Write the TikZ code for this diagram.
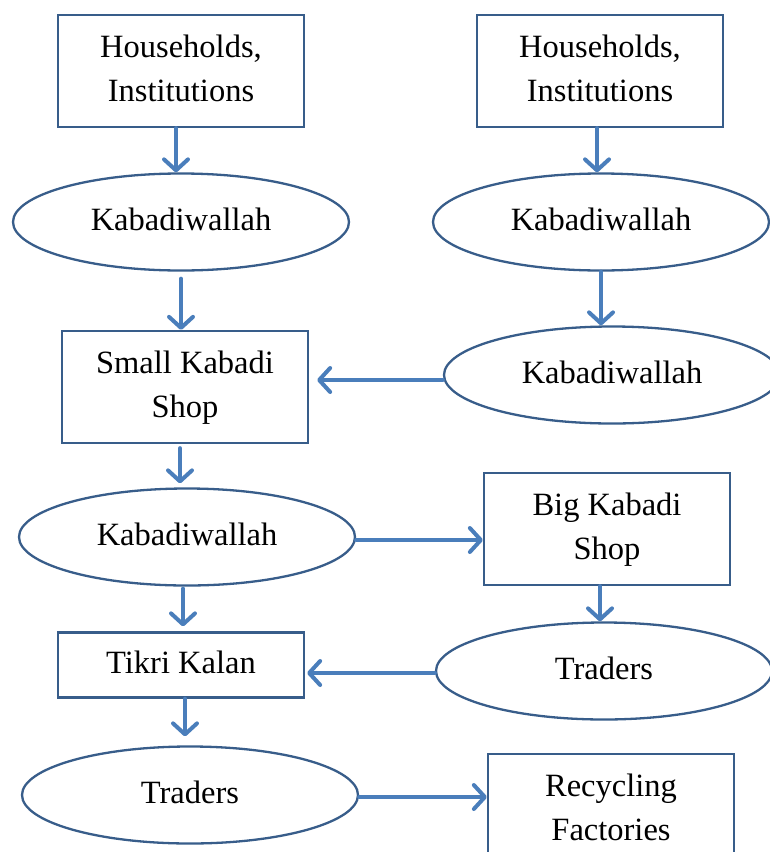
\documentclass[tikz,border=0pt]{standalone}
\usepackage{fontspec}
\setmainfont{Liberation Serif}
\usetikzlibrary{shapes.geometric,arrows.meta}

\definecolor{shapeline}{RGB}{56,93,138}
\definecolor{flowline}{RGB}{74,126,187}

\tikzset{
  stagebox/.style={draw=shapeline,line width=2.3pt,minimum width=246pt,minimum height=112pt,
    inner sep=0pt,text depth=6pt,align=center,font=\fontsize{32.5}{44}\selectfont},
  actor/.style={ellipse,draw=shapeline,line width=2.3pt,minimum width=336pt,minimum height=97pt,
    inner sep=0pt,text depth=6pt,font=\fontsize{32.5}{44}\selectfont},
  flow/.style={draw=flowline,line width=4pt,line cap=round,
    -{Straight Barb[length=11pt,width=24pt,round]}}
}

\begin{document}
\begin{tikzpicture}[x=1pt,y=-1pt]
\useasboundingbox (0,0) rectangle (770,852);
\clip (0,0) rectangle (770,852);

% Left column
\node[stagebox] (hhA) at (181,71) {Households,\\Institutions};
\node[actor] (kwA) at (181,222) {Kabadiwallah};
\node[stagebox] (smallshop) at (185,387) {Small Kabadi\\Shop};
\node[actor] (kwC) at (187,537) {Kabadiwallah};
\node[stagebox,minimum height=65pt] (tikri) at (181,665) {Tikri Kalan};
\node[actor] (tradersL) at (190,795) {Traders};

% Right column
\node[stagebox] (hhB) at (600,71) {Households,\\Institutions};
\node[actor] (kwB) at (601,222) {Kabadiwallah};
\node[actor] (kwBB) at (612,375) {Kabadiwallah};
\node[stagebox] (bigshop) at (607,529) {Big Kabadi\\Shop};
\node[actor] (tradersR) at (604,671) {Traders};
\node[stagebox] (recycling) at (611,810) {Recycling\\Factories};

% Flows
\draw[flow] ([xshift=-5pt]hhA.south) -- ([xshift=-5pt]hhA.south |- kwA.north);
\draw[flow] ([xshift=-3pt]hhB.south) -- ([xshift=-3pt]hhB.south |- kwB.north);
\draw[flow,shorten <=7pt] (kwA.south) -- (kwA.south |- smallshop.north);
\draw[flow] (kwB.south) -- (kwB.south |- kwBB.north);
\draw[flow,shorten >=8pt] ([yshift=-5pt]kwBB.west) -- ([yshift=-5pt]kwBB.west -| smallshop.east);
\draw[flow,shorten <=4pt,shorten >=4pt] ([xshift=-5pt]smallshop.south) -- ([xshift=-5pt]smallshop.south |- kwC.north);
\draw[flow] ([yshift=-3pt]kwC.east) -- ([yshift=-3pt]kwC.east -| bigshop.west);
\draw[flow] ([xshift=-7pt]bigshop.south) -- ([xshift=-7pt]bigshop.south |- tradersR.north);
\draw[flow,shorten >=2pt] ([yshift=-2pt]tradersR.west) -- ([yshift=-2pt]tradersR.west -| tikri.east);
\draw[flow,shorten <=2pt,shorten >=5pt] ([xshift=-4pt]kwC.south) -- ([xshift=-4pt]kwC.south |- tikri.north);
\draw[flow,shorten >=9pt] ([xshift=4pt]tikri.south) -- ([xshift=4pt]tikri.south |- tradersL.north);
\draw[flow] ([yshift=-2pt]tradersL.east) -- ([yshift=-2pt]tradersL.east -| recycling.west);

\end{tikzpicture}
\end{document}
